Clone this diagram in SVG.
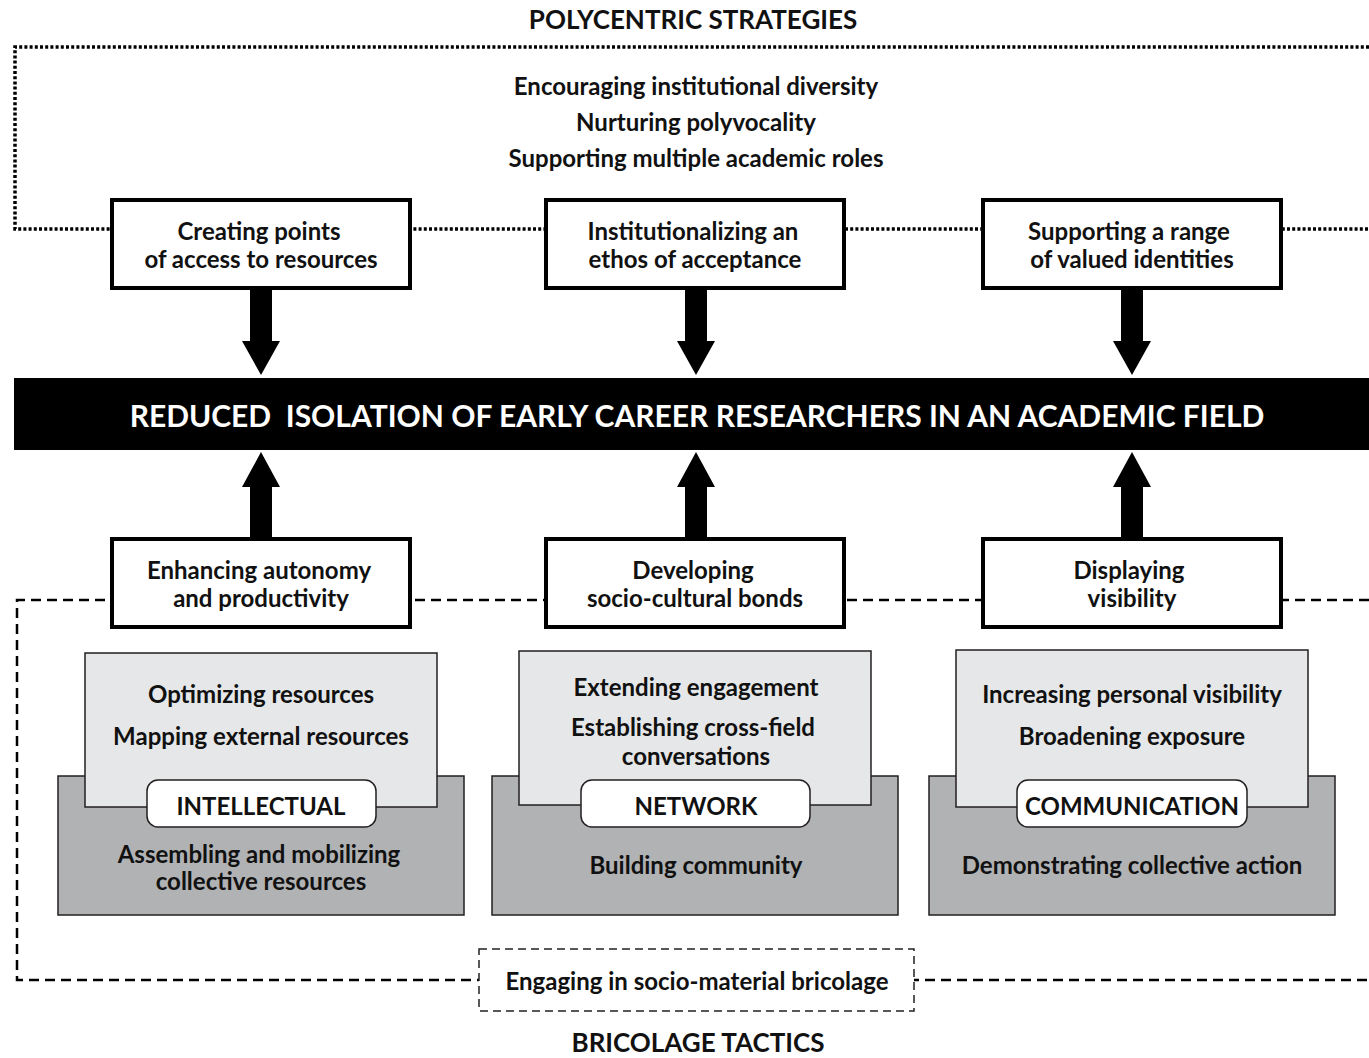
<svg xmlns="http://www.w3.org/2000/svg" width="1369" height="1058" viewBox="0 0 1369 1058">
<style>
text{font-family:Lato,"Open Sans","Liberation Sans",sans-serif;font-weight:bold;fill:#111;text-anchor:middle;dominant-baseline:central}
.t{font-size:24px}
.h{font-size:26px}
.bar{font-size:30px;fill:#fff}
.box{fill:#fff;stroke:#000;stroke-width:4}
.lt{fill:#e6e7e8;stroke:#231f20;stroke-width:1.5}
.dk{fill:#b1b2b4;stroke:#231f20;stroke-width:1.5}
.pill{fill:#fff;stroke:#231f20;stroke-width:1.5}
.dot{fill:none;stroke:#000;stroke-width:3.5;stroke-dasharray:3 2.2}
.dash{fill:none;stroke:#000;stroke-width:2.5;stroke-dasharray:10 6}
.dash2{fill:#fff;stroke:#222;stroke-width:1.5;stroke-dasharray:8 5}
.arr{fill:#000}
</style>
<rect width="1369" height="1058" fill="#fff"/>
<g id="frames">
<path class="dot" d="M1369 47 H15 V229 H1369"/>
<path class="dash" d="M1369 600 H17 V980 H1369"/>
</g>
<text class="h" x="693" y="19">POLYCENTRIC STRATEGIES</text>
<g id="strategies">
<text class="t" x="696" y="85">Encouraging institutional diversity</text>
<text class="t" x="696" y="121">Nurturing polyvocality</text>
<text class="t" x="696" y="157">Supporting multiple academic roles</text>
</g>
<g id="connectors">
<path class="arr" d="M250 288 H272 V341 H280 L261 375 L242 341 H250 Z"/>
<path class="arr" d="M685 288 H707 V341 H715 L696 375 L677 341 H685 Z"/>
<path class="arr" d="M1121 288 H1143 V341 H1151 L1132 375 L1113 341 H1121 Z"/>
<path class="arr" d="M250 538 H272 V487 H280 L261 452 L242 487 H250 Z"/>
<path class="arr" d="M685 538 H707 V487 H715 L696 452 L677 487 H685 Z"/>
<path class="arr" d="M1121 538 H1143 V487 H1151 L1132 452 L1113 487 H1121 Z"/>
</g>
<g id="top1"><rect class="box" x="112" y="200" width="298" height="88"/>
<text class="t" x="259" y="230">Creating points</text><text class="t" x="261" y="258">of access to resources</text></g>
<g id="top2"><rect class="box" x="546" y="200" width="298" height="88"/>
<text class="t" x="693" y="230">Institutionalizing an</text><text class="t" x="695" y="258">ethos of acceptance</text></g>
<g id="top3"><rect class="box" x="983" y="200" width="298" height="88"/>
<text class="t" x="1129" y="230">Supporting a range</text><text class="t" x="1132" y="258">of valued identities</text></g>
<g id="outcome"><rect x="14" y="378" width="1355" height="72" fill="#000"/>
<text class="bar" x="697" y="415" xml:space="preserve">REDUCED  ISOLATION OF EARLY CAREER RESEARCHERS IN AN ACADEMIC FIELD</text></g>
<g id="bot1"><rect class="box" x="112" y="539" width="298" height="88"/>
<text class="t" x="259" y="569">Enhancing autonomy</text><text class="t" x="261" y="597">and productivity</text></g>
<g id="bot2"><rect class="box" x="546" y="539" width="298" height="88"/>
<text class="t" x="693" y="569">Developing</text><text class="t" x="695" y="597">socio-cultural bonds</text></g>
<g id="bot3"><rect class="box" x="983" y="539" width="298" height="88"/>
<text class="t" x="1129" y="569">Displaying</text><text class="t" x="1132" y="597">visibility</text></g>
<g id="intellectual">
<rect class="dk" x="58" y="776" width="406" height="139"/>
<rect class="lt" x="85" y="653" width="352" height="154"/>
<rect class="pill" x="147" y="780" width="229" height="47" rx="11"/>
<text class="t" x="261" y="693">Optimizing resources</text>
<text class="t" x="261" y="735">Mapping external resources</text>
<text class="t" x="261" y="805">INTELLECTUAL</text>
<text class="t" x="259" y="853">Assembling and mobilizing</text>
<text class="t" x="261" y="880">collective resources</text>
</g>
<g id="network">
<rect class="dk" x="492" y="776" width="406" height="139"/>
<rect class="lt" x="519" y="651" width="352" height="154"/>
<rect class="pill" x="581" y="780" width="229" height="47" rx="11"/>
<text class="t" x="696" y="686">Extending engagement</text>
<text class="t" x="693" y="726">Establishing cross-field</text>
<text class="t" x="696" y="755">conversations</text>
<text class="t" x="696" y="805">NETWORK</text>
<text class="t" x="696" y="864">Building community</text>
</g>
<g id="communication">
<rect class="dk" x="929" y="776" width="406" height="139"/>
<rect class="lt" x="956" y="650" width="352" height="157"/>
<rect class="pill" x="1017" y="780" width="230" height="47" rx="11"/>
<text class="t" x="1132" y="693">Increasing personal visibility</text>
<text class="t" x="1132" y="735">Broadening exposure</text>
<text class="t" x="1132" y="805">COMMUNICATION</text>
<text class="t" x="1132" y="864">Demonstrating collective action</text>
</g>
<g id="bricolage"><rect class="dash2" x="479" y="949" width="435" height="62"/>
<text class="t" x="697" y="980">Engaging in socio-material bricolage</text></g>
<text class="h" x="698" y="1042">BRICOLAGE TACTICS</text>
</svg>
